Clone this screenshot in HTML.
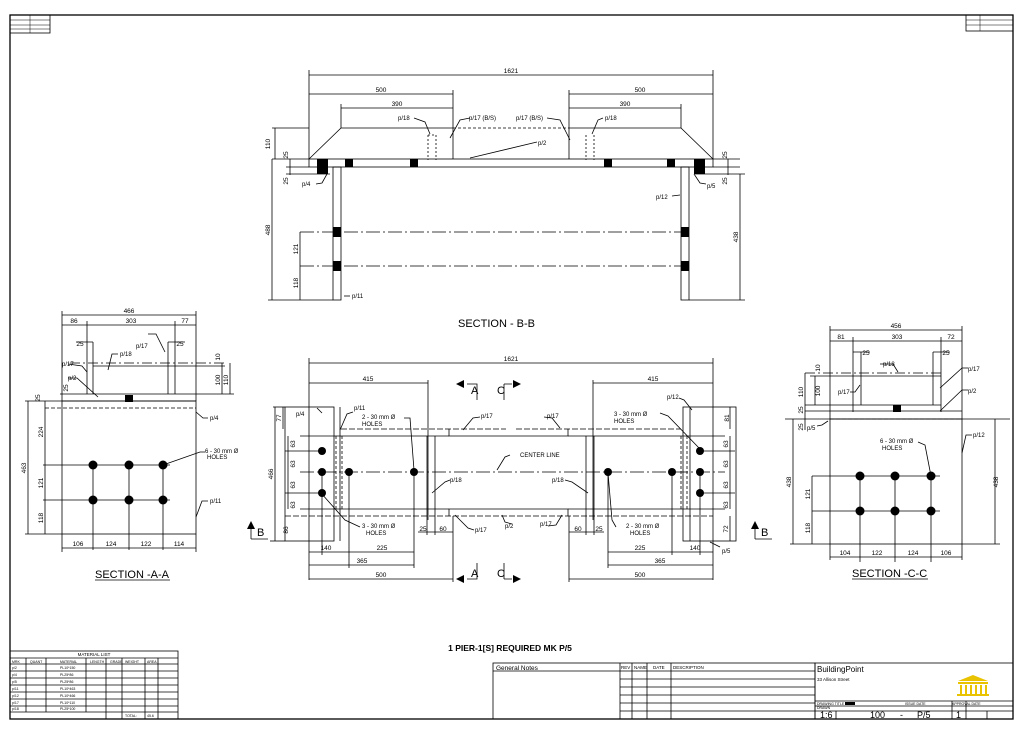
<!DOCTYPE html>
<html><head><meta charset="utf-8"><style>
html,body{margin:0;padding:0;background:#fff;}
svg{display:block;font-family:"Liberation Sans",sans-serif;}
</style></head><body>
<svg width="1024" height="732" viewBox="0 0 1024 732" xmlns="http://www.w3.org/2000/svg">
<rect x="0" y="0" width="1024" height="732" fill="#fff"/>
<!-- frame -->
<rect x="10" y="15" width="1003" height="704" fill="none" stroke="#000" stroke-width="1.3"/>
<rect x="10" y="15" width="40" height="18" fill="none" stroke="#000" stroke-width="0.8"/>
<g stroke="#000" stroke-width="0.5"><line x1="10" y1="20" x2="50" y2="20"/><line x1="10" y1="25" x2="50" y2="25"/><line x1="10" y1="29" x2="50" y2="29"/><line x1="30" y1="15" x2="30" y2="33"/></g>
<rect x="966" y="15" width="47" height="16" fill="none" stroke="#000" stroke-width="0.8"/>
<g stroke="#000" stroke-width="0.5"><line x1="966" y1="20" x2="1013" y2="20"/><line x1="966" y1="25" x2="1013" y2="25"/><line x1="980" y1="15" x2="980" y2="31"/></g>

<g fill="none" stroke="#000" stroke-width="0.8">
<!-- ===== SECTION B-B ===== -->
<line x1="309" y1="75" x2="713" y2="75"/><line x1="309" y1="70" x2="309" y2="159"/><line x1="713" y1="70" x2="713" y2="159"/>
<line x1="309" y1="94" x2="453" y2="94"/><line x1="453" y1="90" x2="453" y2="128"/>
<line x1="569" y1="94" x2="713" y2="94"/><line x1="569" y1="90" x2="569" y2="128"/>
<line x1="341" y1="108" x2="453" y2="108"/><line x1="341" y1="104" x2="341" y2="128"/>
<line x1="569" y1="108" x2="681" y2="108"/><line x1="681" y1="104" x2="681" y2="128"/>
<path d="M309 159 L341 128 L453 128 L453 159"/>
<path d="M569 159 L569 128 L681 128 L713 159"/>
<line x1="453" y1="128" x2="569" y2="128" stroke-dasharray="3,2"/>
<path d="M428 135 V160 M436 135 V160 M428 135 H436" stroke-dasharray="2,2"/>
<path d="M586 135 V160 M594 135 V160" stroke-dasharray="2,2"/>
<rect x="309" y="159" width="404" height="8"/>
<rect x="333" y="167" width="8" height="133"/><rect x="681" y="167" width="8" height="133"/>
<line x1="300" y1="232" x2="688" y2="232" stroke-dasharray="14,3,2,3"/>
<line x1="300" y1="266" x2="688" y2="266" stroke-dasharray="14,3,2,3"/>
<line x1="272" y1="128" x2="309" y2="128"/><line x1="275" y1="128" x2="275" y2="159"/>
<line x1="272" y1="159" x2="309" y2="159"/><line x1="272" y1="159" x2="272" y2="300"/>
<line x1="268" y1="300" x2="333" y2="300"/>
<line x1="290" y1="159" x2="290" y2="175"/><line x1="286" y1="167" x2="309" y2="167"/><line x1="286" y1="174" x2="330" y2="174"/>
<line x1="300" y1="232" x2="300" y2="300"/>
<line x1="713" y1="159" x2="740" y2="159"/><line x1="728" y1="159" x2="728" y2="175"/><line x1="713" y1="167" x2="740" y2="167"/><line x1="695" y1="174" x2="745" y2="174"/>
<line x1="740" y1="174" x2="740" y2="300"/><line x1="689" y1="300" x2="745" y2="300"/>
<!-- leaders -->
<path d="M414 118 L425 122 L430 134"/><path d="M470 118 L460 120 L450 138"/>
<path d="M547 118 L560 120 L570 140"/><path d="M603 118 L598 120 L592 134"/>
<path d="M537 142 L470 158"/><path d="M316 184 L322 183 L327 174"/>
<path d="M706 184 L700 183 L694 174"/><path d="M672 196 L680 195"/><path d="M344 296 L350 296"/>
<!-- ===== PLAN ===== -->
<line x1="309" y1="363" x2="713" y2="363"/><line x1="309" y1="358" x2="309" y2="580"/><line x1="713" y1="358" x2="713" y2="580"/>
<line x1="309" y1="383" x2="428" y2="383"/><line x1="428" y1="380" x2="428" y2="520"/>
<line x1="593" y1="383" x2="713" y2="383"/><line x1="593" y1="380" x2="593" y2="520"/>
<line x1="341" y1="429" x2="506" y2="429" stroke-dasharray="6,2"/>
<line x1="516" y1="429" x2="681" y2="429" stroke-dasharray="6,2"/>
<line x1="285" y1="516" x2="713" y2="516" stroke-dasharray="6,2"/>
<path d="M449 429 V436 H568 V429"/><path d="M449 516 V509 H568 V516"/>
<line x1="300" y1="436" x2="449" y2="436"/><line x1="568" y1="436" x2="725" y2="436"/>
<line x1="300" y1="509" x2="449" y2="509"/><line x1="568" y1="509" x2="725" y2="509"/>
<line x1="300" y1="472" x2="725" y2="472" stroke-dasharray="14,3,2,3"/>
<line x1="427" y1="436" x2="427" y2="535"/><line x1="435" y1="436" x2="435" y2="535"/>
<line x1="586" y1="436" x2="586" y2="535"/><line x1="594" y1="436" x2="594" y2="535"/>
<rect x="285" y="407" width="49" height="134"/><line x1="340" y1="407" x2="340" y2="541"/>
<rect x="683" y="407" width="53" height="134"/><line x1="690" y1="407" x2="690" y2="541"/>
<path d="M336 436 V509 M342 436 V509" stroke-dasharray="3,2"/>
<path d="M681 436 V509 M687 436 V509" stroke-dasharray="3,2"/>
<line x1="273" y1="407" x2="285" y2="407"/><line x1="275" y1="407" x2="275" y2="541"/><line x1="270" y1="541" x2="285" y2="541"/>
<line x1="283" y1="407" x2="283" y2="429"/>
<line x1="288" y1="436" x2="288" y2="509"/>
<line x1="285" y1="451" x2="322" y2="451"/><line x1="285" y1="493" x2="322" y2="493"/>
<line x1="730" y1="407" x2="730" y2="429"/><line x1="730" y1="436" x2="730" y2="509"/><line x1="730" y1="516" x2="730" y2="541"/>
<line x1="700" y1="451" x2="735" y2="451"/><line x1="700" y1="493" x2="735" y2="493"/>
<line x1="322" y1="472" x2="322" y2="555"/><line x1="349" y1="472" x2="349" y2="568"/><line x1="414" y1="472" x2="414" y2="568"/>
<line x1="672" y1="472" x2="672" y2="555"/><line x1="608" y1="472" x2="608" y2="568"/><line x1="700" y1="472" x2="700" y2="555"/>
<line x1="309" y1="552" x2="414" y2="552"/><line x1="309" y1="565" x2="414" y2="565"/><line x1="309" y1="579" x2="453" y2="579"/><line x1="453" y1="516" x2="453" y2="582"/>
<line x1="608" y1="552" x2="713" y2="552"/><line x1="608" y1="565" x2="713" y2="565"/><line x1="569" y1="579" x2="713" y2="579"/><line x1="569" y1="516" x2="569" y2="582"/>
<line x1="418" y1="532" x2="453" y2="532"/><line x1="569" y1="532" x2="604" y2="532"/>
<path d="M353 412 L347 414 L340 430"/><path d="M404 418 L410 418 L414 470"/><path d="M321 493 L345 520 L360 527"/>
<path d="M510 455 L505 457 L497 470"/><path d="M450 480 L445 482 L432 493"/>
<path d="M480 417 L473 418 L463 430"/><path d="M474 530 L468 528 L455 515"/>
<path d="M512 524 L505 522 L502 515"/><path d="M544 417 L552 418 L560 428"/>
<path d="M565 480 L572 482 L588 493"/><path d="M548 526 L556 525 L562 515"/>
<path d="M616 527 L612 520 L608 473"/><path d="M660 413 L668 416 L700 449"/><path d="M679 398 L684 400 L692 410"/>
<path d="M710 542 L720 547"/>
<path d="M317 408 L322 413"/>
<!-- section arrows -->
<path d="M467 384 H477 V400"/><path d="M504 384 V400 M504 384 H512"/>
<path d="M467 579 H477 V563"/><path d="M504 579 V563 M504 579 H512"/>
<path d="M251 539 H268"/><path d="M251 539 V528"/><path d="M755 539 H772"/><path d="M755 539 V528"/>
<!-- ===== SECTION A-A ===== -->
<line x1="62" y1="315" x2="196" y2="315"/><line x1="62" y1="311" x2="62" y2="401"/><line x1="196" y1="311" x2="196" y2="401"/>
<line x1="62" y1="325" x2="196" y2="325"/><line x1="87" y1="321" x2="87" y2="394"/><line x1="175" y1="321" x2="175" y2="394"/>
<line x1="93" y1="342" x2="93" y2="394"/><line x1="168" y1="342" x2="168" y2="394"/>
<line x1="76" y1="342" x2="93" y2="342"/><line x1="168" y1="342" x2="185" y2="342"/>
<line x1="70" y1="363" x2="225" y2="363" stroke-dasharray="10,3,2,3"/>
<line x1="93" y1="366" x2="225" y2="366"/>
<line x1="60" y1="394" x2="196" y2="394"/><line x1="25" y1="401" x2="196" y2="401"/>
<line x1="45" y1="408" x2="196" y2="408" stroke-dasharray="4,2"/>
<rect x="62" y="401" width="134" height="133"/>
<line x1="222" y1="363" x2="222" y2="394"/><line x1="230" y1="363" x2="230" y2="394"/><line x1="196" y1="394" x2="234" y2="394"/>
<line x1="28" y1="401" x2="28" y2="534"/><line x1="25" y1="534" x2="62" y2="534"/><line x1="45" y1="401" x2="45" y2="534"/>
<line x1="43" y1="465" x2="170" y2="465"/><line x1="43" y1="500" x2="170" y2="500"/>
<line x1="93" y1="465" x2="93" y2="550"/><line x1="129" y1="465" x2="129" y2="550"/><line x1="163" y1="465" x2="163" y2="550"/>
<line x1="62" y1="548" x2="196" y2="548"/><line x1="62" y1="534" x2="62" y2="552"/><line x1="196" y1="534" x2="196" y2="552"/>
<path d="M163 465 L200 452 L205 452"/><path d="M196 517 L202 501 L208 501"/><path d="M196 412 L203 418 L208 418"/>
<path d="M68 364 L82 366 L87 372"/><path d="M68 378 L77 378 L98 397"/><path d="M118 354 L112 354 L108 370"/><path d="M148 334 L156 334 L165 352"/>
<!-- ===== SECTION C-C ===== -->
<line x1="830" y1="330" x2="962" y2="330"/><line x1="830" y1="326" x2="830" y2="419"/><line x1="962" y1="326" x2="962" y2="419"/>
<line x1="830" y1="341" x2="962" y2="341"/><line x1="853" y1="337" x2="853" y2="412"/><line x1="941" y1="337" x2="941" y2="412"/>
<line x1="861" y1="352" x2="861" y2="405"/><line x1="933" y1="352" x2="933" y2="405"/>
<line x1="853" y1="352" x2="870" y2="352"/><line x1="933" y1="352" x2="950" y2="352"/>
<line x1="805" y1="373" x2="941" y2="373" stroke-dasharray="10,3,2,3"/>
<line x1="810" y1="376" x2="941" y2="376"/>
<line x1="805" y1="405" x2="941" y2="405"/><line x1="805" y1="411" x2="962" y2="411"/>
<line x1="785" y1="419" x2="1010" y2="419"/>
<line x1="830" y1="419" x2="962" y2="419" stroke-dasharray="4,2"/>
<rect x="830" y="419" width="132" height="125"/>
<line x1="805" y1="373" x2="805" y2="430"/><line x1="815" y1="376" x2="815" y2="405"/>
<line x1="793" y1="419" x2="793" y2="544"/><line x1="790" y1="544" x2="830" y2="544"/>
<line x1="812" y1="476" x2="812" y2="544"/>
<line x1="962" y1="544" x2="1000" y2="544"/><line x1="995" y1="419" x2="995" y2="544"/>
<line x1="812" y1="476" x2="940" y2="476"/><line x1="812" y1="511" x2="940" y2="511"/>
<line x1="860" y1="476" x2="860" y2="562"/><line x1="895" y1="476" x2="895" y2="562"/><line x1="931" y1="476" x2="931" y2="562"/>
<line x1="830" y1="557" x2="962" y2="557"/><line x1="830" y1="544" x2="830" y2="560"/><line x1="962" y1="544" x2="962" y2="560"/>
<path d="M931 476 L925 445 L918 442"/><path d="M962 453 L966 435 L972 435"/><path d="M940 388 L962 368 L968 368"/>
<path d="M940 411 L962 390 L968 390"/><path d="M828 421 L822 425 L817 426"/><path d="M850 392 L855 392 L860 385"/><path d="M880 364 L893 364 L898 372"/>
<!-- ===== title block ===== -->
<rect x="10" y="651" width="168" height="68"/>
<line x1="10" y1="658" x2="178" y2="658"/><line x1="10" y1="664" x2="178" y2="664"/>
<line x1="10" y1="671" x2="178" y2="671"/><line x1="10" y1="678" x2="178" y2="678"/><line x1="10" y1="685" x2="178" y2="685"/>
<line x1="10" y1="692" x2="178" y2="692"/><line x1="10" y1="699" x2="178" y2="699"/><line x1="10" y1="706" x2="178" y2="706"/><line x1="10" y1="712" x2="178" y2="712"/>
<path d="M26 658 V712 M46 658 V712 M86 658 V712 M106 658 V719 M122 658 V719 M145 658 V719 M158 658 V719"/>
<rect x="493" y="663" width="322" height="56"/>
<path d="M620 663 V719 M632 663 V719 M647 663 V719 M671 663 V719"/>
<path d="M620 671 H815 M620 679 H815 M620 687 H815 M620 695 H815 M620 703 H815 M620 711 H815 M493 671 H620"/>
<rect x="815" y="663" width="198" height="56"/>
<path d="M815 701 H1013 M815 706 H1013 M815 711 H1013"/>
<path d="M836 711 V719 M952 701 V719 M966 701 V719 M987 711 V719"/>
</g>
<!-- filled black blocks -->
<g fill="#000">
<rect x="317" y="159" width="11" height="15"/><rect x="345" y="159" width="8" height="8"/><rect x="410" y="159" width="8" height="8"/>
<rect x="604" y="159" width="8" height="8"/><rect x="667" y="159" width="8" height="8"/><rect x="694" y="159" width="11" height="15"/>
<rect x="333" y="227" width="8" height="10"/><rect x="333" y="261" width="8" height="10"/>
<rect x="681" y="227" width="8" height="10"/><rect x="681" y="261" width="8" height="10"/>
<circle cx="322" cy="451" r="4"/><circle cx="322" cy="472" r="4"/><circle cx="322" cy="493" r="4"/>
<circle cx="349" cy="472" r="4"/><circle cx="414" cy="472" r="4"/>
<circle cx="608" cy="472" r="4"/><circle cx="672" cy="472" r="4"/>
<circle cx="700" cy="451" r="4"/><circle cx="700" cy="472" r="4"/><circle cx="700" cy="493" r="4"/>
<rect x="125" y="395" width="8" height="7"/>
<circle cx="93" cy="465" r="4.5"/><circle cx="129" cy="465" r="4.5"/><circle cx="163" cy="465" r="4.5"/>
<circle cx="93" cy="500" r="4.5"/><circle cx="129" cy="500" r="4.5"/><circle cx="163" cy="500" r="4.5"/>
<rect x="893" y="405" width="8" height="7"/>
<circle cx="860" cy="476" r="4.5"/><circle cx="895" cy="476" r="4.5"/><circle cx="931" cy="476" r="4.5"/>
<circle cx="860" cy="511" r="4.5"/><circle cx="895" cy="511" r="4.5"/><circle cx="931" cy="511" r="4.5"/>
<path d="M456 384 L464 380 L464 388Z"/><path d="M521 384 L513 380 L513 388Z"/>
<path d="M456 579 L464 575 L464 583Z"/><path d="M521 579 L513 575 L513 583Z"/>
<path d="M251 521 L247 529 L255 529Z"/><path d="M755 521 L751 529 L759 529Z"/>
<rect x="845" y="702" width="10" height="3"/>
</g>
<!-- text -->
<g font-size="6.5" fill="#000" text-anchor="middle">
<text x="511" y="73">1621</text><text x="381" y="92">500</text><text x="640" y="92">500</text>
<text x="397" y="106">390</text><text x="625" y="106">390</text>
<text x="511" y="361">1621</text><text x="368" y="381">415</text><text x="653" y="381">415</text>
<text x="326" y="550">140</text><text x="382" y="550">225</text><text x="362" y="563">365</text><text x="381" y="577">500</text>
<text x="640" y="550">225</text><text x="695" y="550">140</text><text x="660" y="563">365</text><text x="640" y="577">500</text>
<text x="423" y="531">25</text><text x="443" y="531">60</text><text x="578" y="531">60</text><text x="599" y="531">25</text>
<text x="129" y="313">466</text><text x="74" y="323">86</text><text x="131" y="323">303</text><text x="185" y="323">77</text>
<text x="80" y="346">25</text><text x="180" y="346">25</text>
<text x="78" y="546">106</text><text x="111" y="546">124</text><text x="146" y="546">122</text><text x="179" y="546">114</text>
<text x="896" y="328">456</text><text x="841" y="339">81</text><text x="897" y="339">303</text><text x="951" y="339">72</text>
<text x="866" y="355">25</text><text x="946" y="355">25</text>
<text x="845" y="555">104</text><text x="877" y="555">122</text><text x="913" y="555">124</text><text x="946" y="555">106</text>
</g>
<g font-size="6.5" fill="#000" text-anchor="middle">
<text transform="translate(270,144) rotate(-90)">110</text><text transform="translate(288,155) rotate(-90)">25</text>
<text transform="translate(288,181) rotate(-90)">25</text><text transform="translate(270,230) rotate(-90)">488</text>
<text transform="translate(298,249) rotate(-90)">121</text><text transform="translate(298,283) rotate(-90)">118</text>
<text transform="translate(727,155) rotate(-90)">25</text><text transform="translate(727,181) rotate(-90)">25</text>
<text transform="translate(738,237) rotate(-90)">438</text>
<text transform="translate(281,418) rotate(-90)">77</text><text transform="translate(273,474) rotate(-90)">466</text>
<text transform="translate(295,444) rotate(-90)">63</text><text transform="translate(295,464) rotate(-90)">63</text>
<text transform="translate(295,485) rotate(-90)">63</text><text transform="translate(295,505) rotate(-90)">63</text>
<text transform="translate(288,530) rotate(-90)">86</text>
<text transform="translate(729,418) rotate(-90)">81</text>
<text transform="translate(728,444) rotate(-90)">63</text><text transform="translate(728,464) rotate(-90)">63</text>
<text transform="translate(728,485) rotate(-90)">63</text><text transform="translate(728,505) rotate(-90)">63</text>
<text transform="translate(728,529) rotate(-90)">72</text>
<text transform="translate(26,468) rotate(-90)">463</text><text transform="translate(43,432) rotate(-90)">224</text>
<text transform="translate(43,483) rotate(-90)">121</text><text transform="translate(43,518) rotate(-90)">118</text>
<text transform="translate(228,380) rotate(-90)">110</text><text transform="translate(220,380) rotate(-90)">100</text><text transform="translate(220,357) rotate(-90)">10</text>
<text transform="translate(68,388) rotate(-90)">25</text><text transform="translate(40,398) rotate(-90)">25</text>
<text transform="translate(803,392) rotate(-90)">110</text><text transform="translate(820,391) rotate(-90)">100</text><text transform="translate(820,368) rotate(-90)">10</text>
<text transform="translate(803,410) rotate(-90)">25</text><text transform="translate(803,427) rotate(-90)">25</text>
<text transform="translate(791,482) rotate(-90)">438</text><text transform="translate(810,494) rotate(-90)">121</text>
<text transform="translate(810,528) rotate(-90)">118</text><text transform="translate(998,482) rotate(-90)">438</text>
</g>
<g font-size="6" fill="#000">
<text x="398" y="120">p/18</text><text x="469" y="120">p/17 (B/S)</text><text x="516" y="120">p/17 (B/S)</text><text x="605" y="120">p/18</text>
<text x="538" y="145">p/2</text><text x="302" y="186">p/4</text><text x="707" y="188">p/5</text><text x="656" y="199">p/12</text><text x="352" y="298">p/11</text>
<text x="296" y="416">p/4</text><text x="354" y="410">p/11</text><text x="362" y="419">2 -  30 mm Ø</text><text x="362" y="426">HOLES</text>
<text x="481" y="418">p/17</text><text x="520" y="457">CENTER LINE</text><text x="450" y="482">p/18</text>
<text x="362" y="528">3 -  30 mm Ø</text><text x="366" y="535">HOLES</text><text x="475" y="532">p/17</text><text x="505" y="528">p/2</text>
<text x="547" y="418">p/17</text><text x="552" y="482">p/18</text><text x="540" y="526">p/17</text>
<text x="626" y="528">2 -  30 mm Ø</text><text x="630" y="535">HOLES</text>
<text x="614" y="416">3 -  30 mm Ø</text><text x="614" y="423">HOLES</text><text x="667" y="399">p/12</text><text x="722" y="553">p/5</text>
<text x="62" y="366">p/17</text><text x="68" y="380">p/2</text><text x="120" y="356">p/18</text><text x="136" y="348">p/17</text>
<text x="210" y="420">p/4</text><text x="205" y="453">6 -  30 mm Ø</text><text x="207" y="459">HOLES</text><text x="210" y="503">p/11</text>
<text x="883" y="366">p/18</text><text x="838" y="394">p/17</text><text x="968" y="371">p/17</text><text x="968" y="393">p/2</text>
<text x="807" y="430">p/5</text><text x="973" y="437">p/12</text><text x="880" y="443">6 -  30 mm Ø</text><text x="882" y="450">HOLES</text>
</g>
<g fill="#000" font-size="11">
<text x="458" y="327">SECTION - B-B</text>
<text x="95" y="578">SECTION -A-A</text><text x="852" y="577">SECTION -C-C</text>
<text x="471" y="394">A</text><text x="497" y="394">C</text><text x="471" y="577">A</text><text x="497" y="577">C</text>
<text x="257" y="536">B</text><text x="761" y="536">B</text>
</g>
<g stroke="#000" stroke-width="0.8"><line x1="95" y1="580" x2="170" y2="580"/><line x1="852" y1="579" x2="928" y2="579"/></g>
<text x="510" y="651" font-size="8.5" font-weight="bold" text-anchor="middle">1 PIER-1[S]  REQUIRED  MK P/5</text>
<text x="94" y="656" font-size="4.5" text-anchor="middle">MATERIAL LIST</text>
<g font-size="3.5" fill="#000">
<text x="12" y="663">MRK</text><text x="30" y="663">QUANT</text><text x="60" y="663">MATERIAL</text><text x="90" y="663">LENGTH</text><text x="110" y="663">GRADE</text><text x="125" y="663">WEIGHT</text><text x="147" y="663">AREA</text>
<text x="12" y="669">p/2</text><text x="12" y="676">p/4</text><text x="12" y="683">p/5</text><text x="12" y="690">p/11</text><text x="12" y="697">p/12</text><text x="12" y="704">p/17</text><text x="12" y="710">p/18</text>
<text x="60" y="669">PL10*150</text><text x="60" y="676">PL25*86</text><text x="60" y="683">PL25*86</text><text x="60" y="690">PL10*463</text><text x="60" y="697">PL10*466</text><text x="60" y="704">PL10*110</text><text x="60" y="710">PL25*100</text>
<text x="125" y="717">TOTAL:</text><text x="147" y="717">45.6</text>
</g>
<text x="496" y="670" font-size="6.5">General Notes</text>
<g font-size="4.5"><text x="621" y="669">REV</text><text x="634" y="669">NAME</text><text x="653" y="669">DATE</text><text x="673" y="669">DESCRIPTION</text></g>
<text x="817" y="672" font-size="8">BuildingPoint</text>
<text x="817" y="681" font-size="4.5">33 Allison Street</text>
<g fill="#e9c200"><path d="M958 681 L973 675 L988 681Z"/><rect x="958" y="682" width="30" height="2"/><rect x="960" y="685" width="2" height="9"/><rect x="965" y="685" width="2" height="9"/><rect x="970" y="685" width="2" height="9"/><rect x="975" y="685" width="2" height="9"/><rect x="980" y="685" width="2" height="9"/><rect x="985" y="685" width="2" height="9"/><rect x="957" y="694" width="32" height="2"/></g>
<g font-size="3.5"><text x="817" y="705">DRAWING TITLE</text><text x="817" y="709">DRAWN</text><text x="905" y="705">ISSUE DATE</text><text x="952" y="705">APPROVAL DATE</text></g>
<g font-size="9"><text x="820" y="718">1:6</text><text x="870" y="718">100</text><text x="900" y="718">-</text><text x="917" y="718">P/5</text><text x="956" y="718">1</text></g>
</svg>
</body></html>
